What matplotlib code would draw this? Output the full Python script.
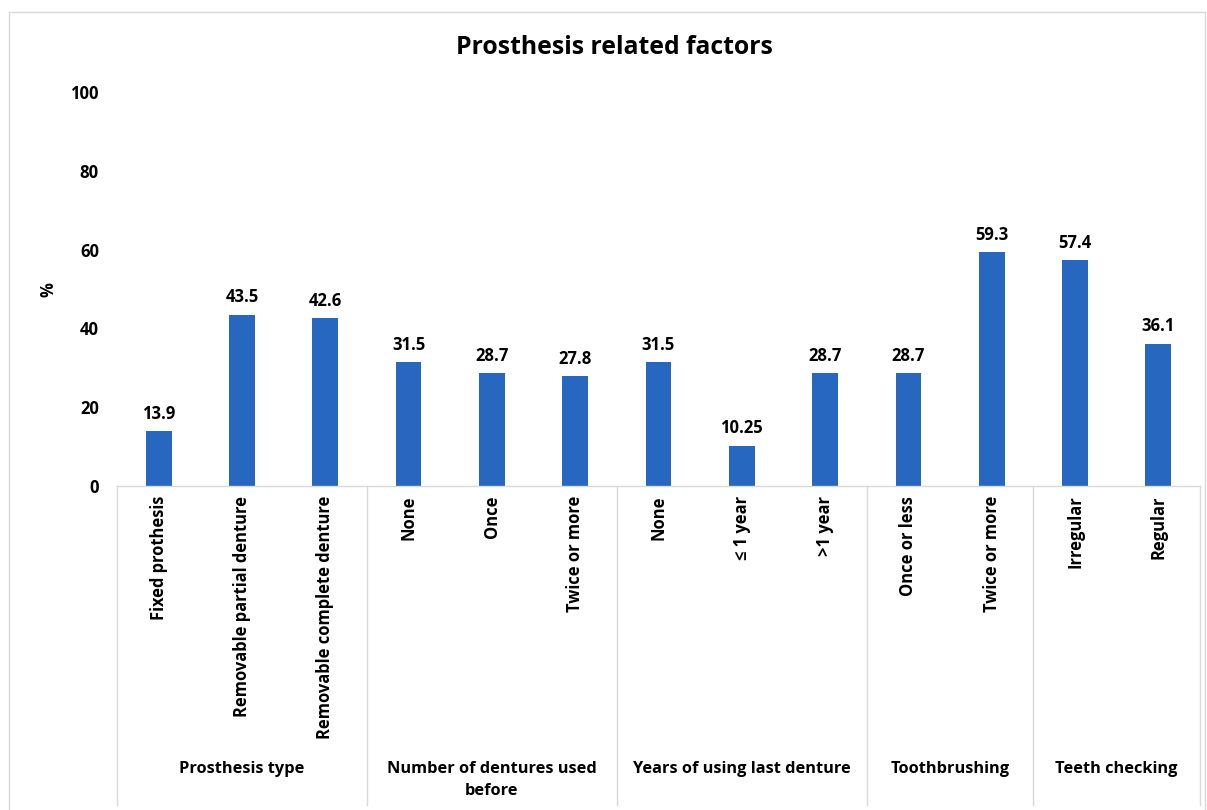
import matplotlib
matplotlib.use('Agg')
import matplotlib.pyplot as plt
from matplotlib.lines import Line2D

plt.rcParams['font.family'] = ['Open Sans', 'DejaVu Sans']

# bar labels, values and the group each one falls under
labels = ['Fixed prothesis', 'Removable partial denture', 'Removable complete denture',
          'None', 'Once', 'Twice or more',
          'None', '\u2264 1 year', '>1 year',
          'Once or less', 'Twice or more',
          'Irregular', 'Regular']
values = [13.9, 43.5, 42.6, 31.5, 28.7, 27.8, 31.5, 10.25, 28.7, 28.7, 59.3, 57.4, 36.1]
value_text = ['13.9', '43.5', '42.6', '31.5', '28.7', '27.8', '31.5', '10.25', '28.7',
              '28.7', '59.3', '57.4', '36.1']
groups = ['Prosthesis type', 'Number of dentures used\nbefore', 'Years of using last denture',
          'Toothbrushing', 'Teeth checking']
group_sizes = [3, 3, 3, 2, 2]

BAR_COLOR = '#2767BF'
GRID_GRAY = '#D9D9D9'

W, H = 1207, 810
fig = plt.figure(figsize=(W / 100, H / 100), dpi=100)
ax = fig.add_axes([117 / W, (H - 486) / H, (1200 - 117) / W, (486 - 92) / H])

x = list(range(len(values)))
bars = ax.bar(x, values, width=0.31, color=BAR_COLOR, zorder=2)
for b, t in zip(bars, value_text):
    ax.annotate(t, (b.get_x() + b.get_width() / 2, b.get_height()),
                xytext=(0, 6), textcoords='offset points', ha='center', va='bottom',
                fontsize=12, fontweight='bold')

ax.set_xlim(-0.5, len(values) - 0.5)
ax.set_ylim(0, 100)
ax.set_yticks(range(0, 101, 20))
ax.tick_params(axis='y', length=0, pad=13, labelsize=12)
for t in ax.get_yticklabels():
    t.set_fontweight('bold')
ax.set_xticks(x)
ax.set_xticklabels(labels, rotation=90, fontsize=11.9, fontweight='bold', va='top')
ax.tick_params(axis='x', length=0, pad=7)

for s in ['top', 'right', 'left']:
    ax.spines[s].set_visible(False)
ax.spines['bottom'].set_color(GRID_GRAY)
ax.spines['bottom'].set_linewidth(1)

ax.set_ylabel('%', fontsize=12, fontweight='bold')
ax.yaxis.set_label_coords(-60 / 1083, (486 - 290) / 394)

# group dividers below the axis and group names
trans = ax.get_xaxis_transform()
edges = [-0.5]
for n in group_sizes:
    edges.append(edges[-1] + n)
for e in edges:
    ax.add_line(Line2D([e, e], [0, -(805 - 486) / 394], transform=trans, color=GRID_GRAY,
                       lw=1, clip_on=False))
for g, a, b in zip(groups, edges[:-1], edges[1:]):
    ax.text((a + b) / 2, -(761 - 486) / 394, g, transform=trans, ha='center', va='top',
            fontsize=11.8, fontweight='bold', linespacing=1.5)

fig.suptitle('Prosthesis related factors', x=614 / W, y=1 - 48 / H, va='center',
             fontsize=17.8, fontweight='bold')

# outer chart frame
frame = dict(color=GRID_GRAY, lw=1, transform=fig.transFigure)
fig.add_artist(Line2D([9 / W, 9 / W], [0, 1 - 12 / H], **frame))
fig.add_artist(Line2D([9 / W, 1205 / W], [1 - 12 / H, 1 - 12 / H], **frame))
fig.add_artist(Line2D([1205 / W, 1205 / W], [0, 1 - 12 / H], **frame))

fig.savefig('out.png', dpi=100, facecolor='white')
